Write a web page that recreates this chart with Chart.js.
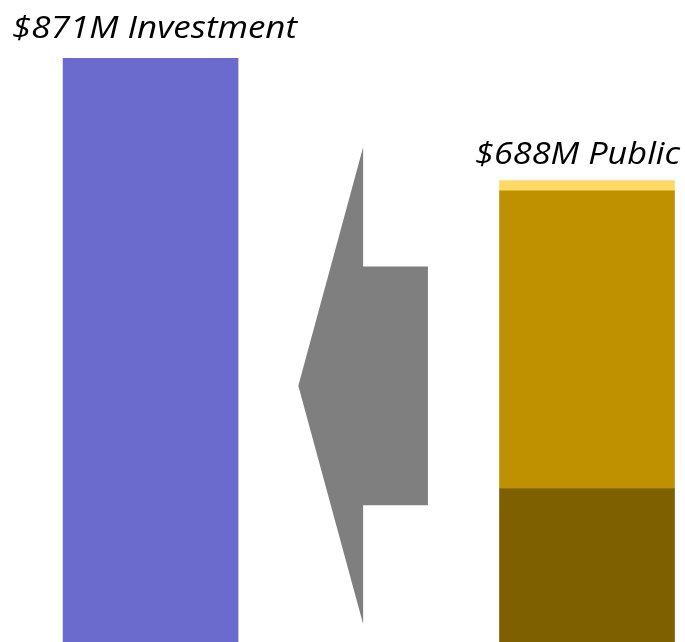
<!DOCTYPE html>
<html>
<head>
<meta charset="utf-8">
<script src="https://cdn.jsdelivr.net/npm/chart.js@4/dist/chart.umd.min.js"></script>
<style>
  html, body { margin: 0; padding: 0; background: #fff; }
  #chart { display: block; }
</style>
</head>
<body>
<canvas id="chart" width="685" height="642"></canvas>
<script>
(function () {
  // Bar positions on the x axis: investment on the left, public on the right
  const barNames = ["Investment", "Public"];
  const barX = [0, 2];

  // Investment total ($M)
  const investmentValues = [871];

  // Public split into three stacked pieces ($M), bottom to top
  const publicValues = [229, 444, 15];
  const publicColors = ["#7F6000", "#BF9000", "#FFD966"];

  // Big left-pointing arrow, outline in data units (x, $M)
  const arrowX = [0.677, 0.974, 0.974, 1.271, 1.271, 0.974, 0.974, 0.677];
  const arrowY = [382, 738, 560, 560, 204, 204, 27, 382];

  const investmentTotal = investmentValues.reduce(function (a, b) { return a + b; }, 0);
  const publicTotal = publicValues.reduce(function (a, b) { return a + b; }, 0);

  const labelTexts = [
    "$" + investmentTotal + "M " + barNames[0],
    "$" + publicTotal + "M " + barNames[1]
  ];

  const datasets = [
    {
      type: "bar",
      label: barNames[0],
      data: [{ x: barX[0], y: investmentValues[0] }],
      backgroundColor: "#6B6BCD",
      borderWidth: 0,
      barThickness: 175
    }
  ];

  publicValues.forEach(function (value, i) {
    datasets.push({
      type: "bar",
      label: barNames[1] + " " + (i + 1),
      data: [{ x: barX[1], y: value }],
      backgroundColor: publicColors[i],
      borderWidth: 0,
      barThickness: 175
    });
  });

  datasets.push({
    type: "line",
    label: "arrow",
    stack: "arrow",
    data: arrowX.map(function (x, i) { return { x: x, y: arrowY[i] }; }),
    backgroundColor: "#7F7F7F",
    borderColor: "#7F7F7F",
    borderWidth: 0,
    pointRadius: 0,
    tension: 0,
    fill: "shape"
  });

  // draw text centred on cx, stretched or squeezed to the given width
  function fitText(ctx, text, cx, baseline, width) {
    const natural = ctx.measureText(text).width;
    ctx.save();
    ctx.translate(cx, baseline);
    ctx.scale(width / natural, 1);
    ctx.fillText(text, 0, 0);
    ctx.restore();
  }

  // Italic totals written above each bar
  const topLabels = {
    id: "topLabels",
    afterDatasetsDraw: function (chart) {
      const ctx = chart.ctx;
      const first = chart.getDatasetMeta(0).data[0];
      const last = chart.getDatasetMeta(publicValues.length).data[0];
      ctx.save();
      ctx.fillStyle = "#000";
      ctx.font = "italic 31px 'Open Sans', Lato, sans-serif";
      ctx.textAlign = "center";
      ctx.textBaseline = "alphabetic";
      fitText(ctx, labelTexts[0], first.x + 4, first.y - 20, 285);
      fitText(ctx, labelTexts[1], last.x - 9.5, last.y - 17, 205);
      ctx.restore();
    }
  };

  new Chart(document.getElementById("chart").getContext("2d"), {
    type: "bar",
    data: { datasets: datasets },
    plugins: [topLabels],
    options: {
      responsive: false,
      animation: false,
      layout: { padding: { top: 58, left: 0, right: 0, bottom: 0 } },
      plugins: {
        legend: { display: false },
        tooltip: { enabled: false }
      },
      scales: {
        x: {
          type: "linear",
          min: -0.69,
          max: 2.449,
          offset: false,
          stacked: true,
          display: false
        },
        y: {
          min: 0,
          max: 871,
          stacked: true,
          display: false
        }
      }
    }
  });
})();
</script>
</body>
</html>
